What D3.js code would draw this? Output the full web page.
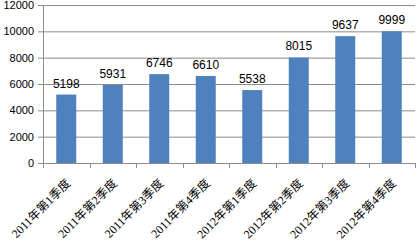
<!DOCTYPE html>
<html>
<head>
<meta charset="utf-8">
<script src="https://cdn.jsdelivr.net/npm/d3@7"></script>
<style>
body { margin: 0; background: #fff; }
svg { display: block; }
</style>
</head>
<body>
<div id="chart"></div>
<script>
var categories = ["2011年第1季度", "2011年第2季度", "2011年第3季度", "2011年第4季度",
    "2012年第1季度", "2012年第2季度", "2012年第3季度", "2012年第4季度"];
var values = [5198, 5931, 6746, 6610, 5538, 8015, 9637, 9999];
var yTicks = [0, 2000, 4000, 6000, 8000, 10000, 12000];

var margin = { top: 5, right: 1, bottom: 79, left: 43 },
    width = 416 - margin.left - margin.right,
    height = 242 - margin.top - margin.bottom;

var svg = d3.select("#chart").append("svg")
    .attr("width", 416)
    .attr("height", 242);

var g = svg.append("g")
    .attr("transform", `translate(${margin.left}, ${margin.top})`);

// Scales.
var x = d3.scaleBand()
    .domain(categories)
    .range([0, width])
    .paddingInner(0.57)
    .paddingOuter(0.285);

var y = d3.scaleLinear()
    .domain([0, 12000])
    .range([height, 0]);

// Gridlines.
g.selectAll("line.grid")
    .data(yTicks.slice(1))
    .enter().append("line")
    .attr("class", "grid")
    .attr("x1", 0)
    .attr("x2", width)
    .attr("y1", d => y(d) + 0.5)
    .attr("y2", d => y(d) + 0.5)
    .attr("stroke", "#8c8c8c")
    .attr("stroke-width", 1);

// Y axis.
var leftAxis = d3.axisLeft(y).tickValues(yTicks).tickFormat(d3.format("d")).tickSize(5).tickPadding(4);
var yAxis = g.append("g").call(leftAxis);
yAxis.select(".domain").attr("stroke", "#8c8c8c").attr("d", `M0.5,0V${height}`);
yAxis.selectAll(".tick line").attr("stroke", "#8c8c8c");
yAxis.selectAll("text")
    .style("font-family", "'Liberation Sans', Arial, sans-serif")
    .style("font-size", "11px")
    .attr("fill", "#000");

// X axis with ticks on category boundaries.
var xAxisG = g.append("g").attr("transform", `translate(0, ${height})`);
xAxisG.append("line")
    .attr("x1", 0).attr("x2", width)
    .attr("y1", 0.5).attr("y2", 0.5)
    .attr("stroke", "#8c8c8c");
var step = x.step();
xAxisG.selectAll("line.tk")
    .data(d3.range(categories.length + 1))
    .enter().append("line")
    .attr("class", "tk")
    .attr("x1", d => Math.round(d * step) + 0.5)
    .attr("x2", d => Math.round(d * step) + 0.5)
    .attr("y1", 0)
    .attr("y2", 5)
    .attr("stroke", "#8c8c8c");

xAxisG.selectAll("text")
    .data(categories)
    .enter().append("text")
    .attr("transform", d => `translate(${x(d) + x.bandwidth() / 2 + 5}, 21) rotate(-45)`)
    .style("text-anchor", "end")
    .style("font-family", "'Liberation Serif', 'Noto Sans CJK SC', serif")
    .style("font-size", "12px")
    .attr("fill", "#000")
    .text(d => d);

// Bars.
var data = categories.map((c, i) => ({ cat: c, val: values[i] }));
g.selectAll("rect.bar")
    .data(data)
    .enter().append("rect")
    .attr("class", "bar")
    .attr("x", d => x(d.cat))
    .attr("y", d => y(d.val))
    .attr("width", x.bandwidth())
    .attr("height", d => height - y(d.val))
    .attr("fill", "#4f81bd");

// Value labels.
g.selectAll("text.val")
    .data(data)
    .enter().append("text")
    .attr("class", "val")
    .attr("x", d => x(d.cat) + x.bandwidth() / 2)
    .attr("y", d => y(d.val) - 7)
    .style("text-anchor", "middle")
    .style("font-family", "'Liberation Sans', Arial, sans-serif")
    .style("font-size", "12px")
    .attr("fill", "#000")
    .text(d => d.val);
</script>
</body>
</html>
